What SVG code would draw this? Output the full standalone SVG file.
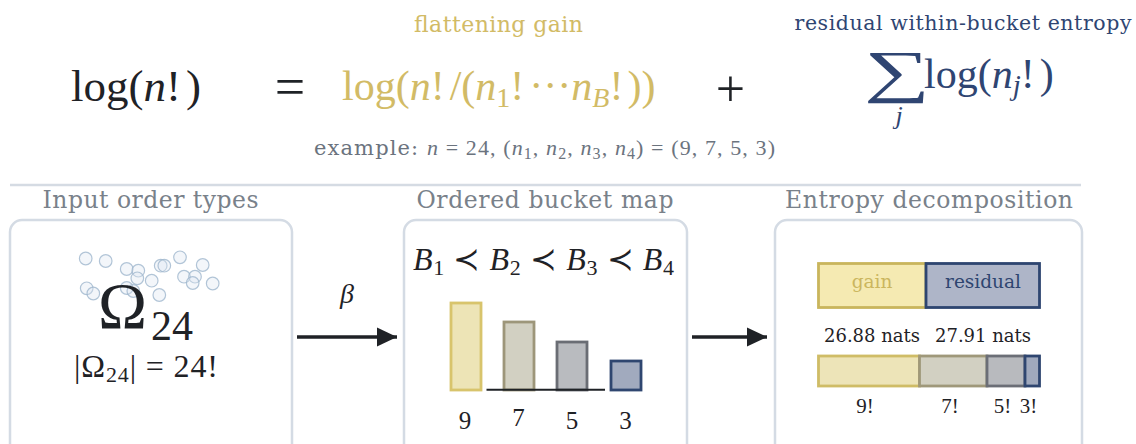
<svg xmlns="http://www.w3.org/2000/svg" width="1136" height="444" viewBox="0 0 1136 444">
<defs>
<style>
.ttl{font-family:"DejaVu Serif",serif;font-size:23.5px;fill:#79818a;text-anchor:middle}
.lbl{font-family:"DejaVu Serif",serif}
.m{font-family:"Liberation Serif","DejaVu Serif",serif}
.it{font-style:italic}
.panel{fill:#ffffff;stroke:#d4dbe4;stroke-width:2.5}
.dot{fill:#dce6f0;fill-opacity:0.35;stroke:#9fb7cd;stroke-width:1.2;stroke-opacity:0.8}
.arrow{stroke:#1f2226;stroke-width:3.5;fill:none}
</style>
<marker id="ah" markerUnits="userSpaceOnUse" markerWidth="22" markerHeight="22" refX="20" refY="10" orient="auto">
<path d="M0,0.5 L20,10 L0,19.5 Z" fill="#1f2226"/>
</marker>
</defs>
<rect width="1136" height="444" fill="#ffffff"/>

<g id="equation">
<text class="m" x="71" y="101" font-size="45" fill="#1f2226">log(<tspan class="it">n</tspan>!<tspan dx="5">)</tspan></text>
<text class="m" x="290" y="105" font-size="54" fill="#1f2226" text-anchor="middle">=</text>
<text class="lbl" x="498.5" y="31.5" font-size="22" fill="#d2bb66" text-anchor="middle" textLength="169">flattening gain</text>
<text class="m" x="342" y="100" font-size="42" fill="#d2bb66">log(<tspan class="it">n</tspan>!<tspan dx="5">/(</tspan><tspan class="it">n</tspan><tspan dy="7" font-size="28">1</tspan><tspan dy="-7">!</tspan><tspan dx="5">···</tspan><tspan class="it">n</tspan><tspan class="it" dy="7" font-size="28">B</tspan><tspan dy="-7">!</tspan><tspan dx="4">))</tspan></text>
<text class="m" x="730.5" y="106" font-size="52" fill="#1f2226" text-anchor="middle">+</text>
<text class="lbl" x="963" y="30" font-size="20.5" fill="#2f4572" text-anchor="middle" textLength="337">residual within-bucket entropy</text>
<text class="m" transform="translate(897,91) scale(1.6,1)" font-size="58" fill="#2f4572" text-anchor="middle">∑</text>
<text class="m it" x="899" y="124" font-size="26" fill="#2f4572" text-anchor="middle">j</text>
<text class="m" x="924" y="88" font-size="42" fill="#2f4572">log(<tspan class="it">n</tspan><tspan class="it" dy="7" font-size="29">j</tspan><tspan dy="-7">!</tspan><tspan dx="5">)</tspan></text>
<text x="314" y="155" font-size="21" fill="#6b737e" textLength="461"><tspan class="lbl">example: </tspan><tspan class="m" font-size="22"><tspan class="it">n</tspan> = 24, (<tspan class="it">n</tspan><tspan dy="4" font-size="16">1</tspan><tspan dy="-4">, </tspan><tspan class="it">n</tspan><tspan dy="4" font-size="16">2</tspan><tspan dy="-4">, </tspan><tspan class="it">n</tspan><tspan dy="4" font-size="16">3</tspan><tspan dy="-4">, </tspan><tspan class="it">n</tspan><tspan dy="4" font-size="16">4</tspan><tspan dy="-4">) = (9, 7, 5, 3)</tspan></tspan></text>
</g>

<line x1="10" y1="185" x2="1081" y2="185" stroke="#d5dbe3" stroke-width="2.5"/>

<g id="input-order-types">
<text class="ttl" x="150.5" y="208" textLength="216">Input order types</text>
<rect class="panel" x="10" y="220" width="282" height="240" rx="12"/>
<circle class="dot" cx="85.7" cy="258.5" r="6.3"/>
<circle class="dot" cx="105.7" cy="261" r="6.3"/>
<circle class="dot" cx="126.7" cy="269" r="6.3"/>
<circle class="dot" cx="138.3" cy="270.7" r="6.3"/>
<circle class="dot" cx="137.3" cy="278.3" r="6.3"/>
<circle class="dot" cx="151.7" cy="280.7" r="6.3"/>
<circle class="dot" cx="160.7" cy="265.7" r="6.3"/>
<circle class="dot" cx="164.3" cy="265.7" r="6.3"/>
<circle class="dot" cx="180" cy="257.3" r="6.3"/>
<circle class="dot" cx="202.7" cy="265" r="6.3"/>
<circle class="dot" cx="184" cy="276.7" r="6.3"/>
<circle class="dot" cx="195" cy="276.7" r="6.3"/>
<circle class="dot" cx="192.7" cy="283" r="6.3"/>
<circle class="dot" cx="212.7" cy="283.5" r="6.3"/>
<circle class="dot" cx="86.7" cy="288.3" r="6.3"/>
<circle class="dot" cx="93.3" cy="293.5" r="6.3"/>
<circle class="dot" cx="126.7" cy="288" r="6.3"/>
<circle class="dot" cx="133.3" cy="291" r="6.3"/>
<circle class="dot" cx="159.3" cy="295" r="6.3"/>
<text class="m" x="98" y="328" font-size="66" fill="#1f2226">Ω</text>
<text class="m" x="151" y="340" font-size="42" fill="#1f2226">24</text>
<text class="m" x="74" y="377" font-size="32" fill="#1f2226" textLength="144">|Ω<tspan dy="5" font-size="22">24</tspan><tspan dy="-5">| = 24!</tspan></text>
</g>

<g id="ordered-bucket-map">
<text class="ttl" x="545" y="208" textLength="257">Ordered bucket map</text>
<rect class="panel" x="404" y="220" width="283" height="240" rx="12"/>
<text class="m" x="413" y="270" font-size="32" fill="#1f2226" textLength="261"><tspan class="it">B</tspan><tspan dy="5" font-size="22">1</tspan><tspan dy="-5"> ≺ </tspan><tspan class="it">B</tspan><tspan dy="5" font-size="22">2</tspan><tspan dy="-5"> ≺ </tspan><tspan class="it">B</tspan><tspan dy="5" font-size="22">3</tspan><tspan dy="-5"> ≺ </tspan><tspan class="it">B</tspan><tspan dy="5" font-size="22">4</tspan></text>
<rect x="451" y="303" width="30" height="87" fill="#ede4b6" stroke="#d8c46c" stroke-width="2.8"/>
<rect x="504" y="322" width="30" height="68" fill="#d2d0c2" stroke="#9d967a" stroke-width="2.8"/>
<rect x="557" y="342" width="30" height="48" fill="#b9bbbf" stroke="#6a6d74" stroke-width="2.8"/>
<rect x="611" y="361" width="30" height="29" fill="#a1aabe" stroke="#2f4670" stroke-width="2.8"/>
<line x1="486.5" y1="389.8" x2="605" y2="389.8" stroke="#1f2226" stroke-width="2"/>
<text class="m" x="465" y="429" font-size="25" fill="#1f2226" text-anchor="middle">9</text>
<text class="m" x="518.5" y="426" font-size="25" fill="#1f2226" text-anchor="middle">7</text>
<text class="m" x="572" y="429" font-size="25" fill="#1f2226" text-anchor="middle">5</text>
<text class="m" x="625.5" y="429" font-size="25" fill="#1f2226" text-anchor="middle">3</text>
</g>

<g id="entropy-decomposition">
<text class="ttl" x="929" y="208" textLength="288">Entropy decomposition</text>
<rect class="panel" x="775" y="220" width="307" height="240" rx="12"/>
<rect x="818.5" y="263.5" width="107.5" height="44" fill="#f5eab2" stroke="#c9b55c" stroke-width="2.8"/>
<rect x="926" y="263.5" width="113.5" height="44" fill="#aeb5c8" stroke="#2e4570" stroke-width="2.8"/>
<text class="lbl" x="872" y="287.5" font-size="18.5" fill="#cbb65e" text-anchor="middle">gain</text>
<text class="lbl" x="983" y="287.5" font-size="18.5" fill="#2e4570" text-anchor="middle">residual</text>
<text class="lbl" x="872" y="342" font-size="18" fill="#1f2226" text-anchor="middle" textLength="96">26.88 nats</text>
<text class="lbl" x="983" y="342" font-size="18" fill="#1f2226" text-anchor="middle" textLength="96">27.91 nats</text>
<rect x="818.5" y="356" width="101" height="30" fill="#ede4b8" stroke="#cfbc66" stroke-width="2.8"/>
<rect x="919.5" y="356" width="67.5" height="30" fill="#d2d0c2" stroke="#9f987a" stroke-width="2.8"/>
<rect x="987" y="356" width="38" height="30" fill="#b8babe" stroke="#6b6e76" stroke-width="2.8"/>
<rect x="1025" y="356" width="14.5" height="30" fill="#a0a9bd" stroke="#2f4670" stroke-width="2.8"/>
<text class="m" x="865" y="413" font-size="21" fill="#1f2226" text-anchor="middle">9!</text>
<text class="m" x="950" y="413" font-size="21" fill="#1f2226" text-anchor="middle">7!</text>
<text class="m" x="1002.5" y="413" font-size="21" fill="#1f2226" text-anchor="middle">5!</text>
<text class="m" x="1028.5" y="413" font-size="21" fill="#1f2226" text-anchor="middle">3!</text>
</g>

<g id="connectors">
<line class="arrow" x1="297" y1="337" x2="397" y2="337" marker-end="url(#ah)"/>
<text class="m it" x="347" y="303" font-size="28" fill="#1f2226" text-anchor="middle">β</text>
<line class="arrow" x1="692" y1="337" x2="767" y2="337" marker-end="url(#ah)"/>
</g>
</svg>
